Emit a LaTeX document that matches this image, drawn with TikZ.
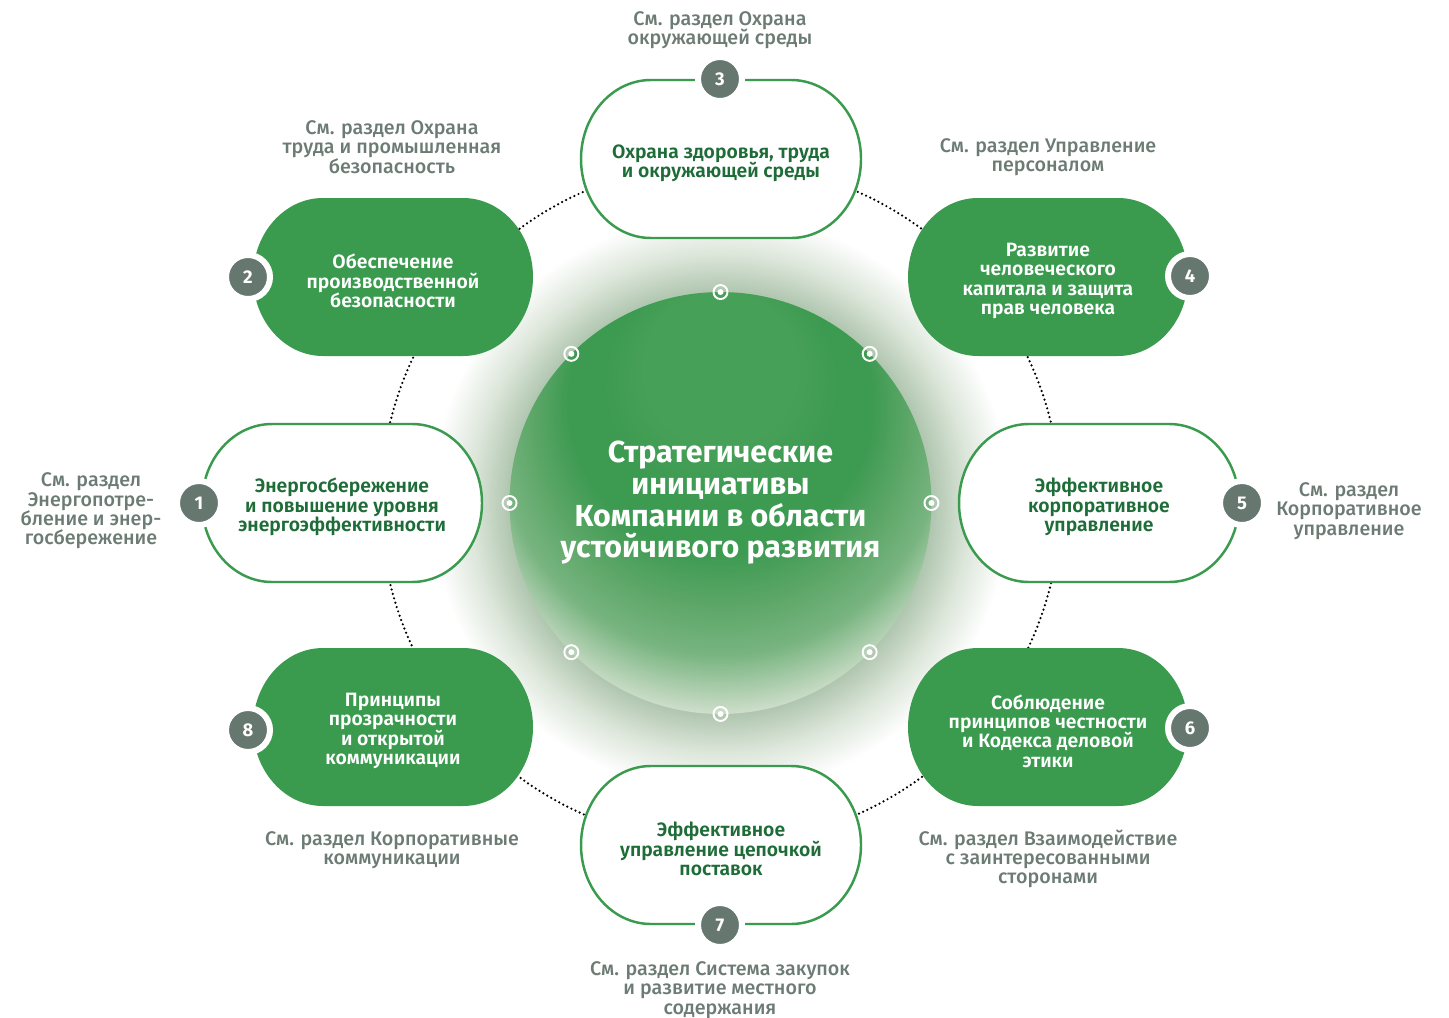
\documentclass[tikz,border=0pt]{standalone}
\usepackage{fontspec}
\setmainfont{Fira Sans}[BoldFont={* SemiBold}]
\newfontfamily\heavyfont{Fira Sans}[UprightFont={* Bold}]
\newfontfamily\labelfont{Fira Sans}[UprightFont={* Medium}]

\definecolor{capgreen}{HTML}{3A9B4F}
\definecolor{capdark}{HTML}{1E6C37}
\definecolor{badgegray}{HTML}{66776F}
\definecolor{labelgray}{HTML}{6C7B74}
\definecolor{halogreen}{HTML}{B0C6AF}
\definecolor{halomid}{HTML}{DCE6DA}
\definecolor{coretop}{HTML}{47A058}
\definecolor{coredark}{HTML}{3D9A51}
\definecolor{coremid}{HTML}{5EA769}
\definecolor{coreside}{HTML}{78B480}
\definecolor{corelight}{HTML}{D0DFCC}
\definecolor{corepale}{HTML}{E6EEE4}

\pgfdeclareradialshading{haloshade}{\pgfpoint{0bp}{0bp}}{color(0bp)=(halogreen); color(18.2bp)=(halogreen); color(21.5bp)=(halomid); color(25bp)=(white); color(50bp)=(white)}
\pgfdeclareradialshading{coreshade}{\pgfpoint{0bp}{20bp}}{color(0bp)=(coretop); color(9bp)=(coretop); color(14bp)=(coredark); color(18bp)=(coredark); color(22.5bp)=(coremid); color(26.3bp)=(coreside); color(31.2bp)=(corelight); color(45bp)=(corepale)}

\newcommand{\captxt}{\fontsize{11}{11}\selectfont\bfseries\lineskiplimit=-1em\relax}
\newcommand{\seetxt}{\fontsize{11.2}{11}\selectfont\labelfont\lineskiplimit=-1em\relax}

\tikzset{
  capfill/.style={fill=capgreen},
  capline/.style={fill=white, draw=capgreen, line width=1.4pt},
  capfill text/.style={text=white, font=\captxt, align=center, yshift=-0.08cm},
  capline text/.style={text=capdark, font=\captxt, align=center, yshift=-0.08cm},
}

% capsule: name, centre, kind, text
\newcommand{\capsule}[4]{%
  \path[#3, shift={(#2)}] (-70,79) -- (70,79)
    arc[start angle=90, end angle=-90, x radius=70, y radius=79]
    -- (-70,-79) arc[start angle=270, end angle=90, x radius=70, y radius=79] -- cycle;
  \node[#3 text] (#1) at (#2) {#4};}

\begin{document}
\begin{tikzpicture}[x=0.02cm, y=0.02cm,
    core/.style={circle, shading=coreshade, minimum size=8.44cm, inner sep=0pt, outer sep=0pt, text=white, align=center, font=\fontsize{17.3}{18}\selectfont\heavyfont},
    badge/.style={circle, fill=badgegray, draw=white, line width=0.12cm, minimum size=0.88cm, inner sep=0pt, text=white, font=\fontsize{10.5}{12}\selectfont\heavyfont},
    seelabel/.style={text=labelgray, align=center, font=\seetxt},
    ring/.style={circle, draw=white, line width=1.1pt, minimum size=0.28cm, inner sep=0pt},
    dotring/.style={line width=1.4pt, line cap=round, dash pattern=on 0pt off 2.6pt}]
  \useasboundingbox (0,0) rectangle (1449,-1017);
  \coordinate (mid) at (720.5,-503);
  \shade[shading=haloshade] (mid) circle[radius=290];
  \draw[dotring] (mid) circle[radius=340];
  \node[core] (core) at (mid) {Стратегические\\инициативы\\Компании в области\\устойчивого развития};
  \foreach \a in {0,45,...,315} {
    \node[ring] (m\a) at (core.\a) {};
    \fill[white] (m\a) circle[radius=3];
  }

  \capsule{c3}{721,-159}{capline}{Охрана здоровья, труда\\и окружающей среды}
  \capsule{c2}{393,-277}{capfill}{Обеспечение\\производственной\\безопасности}
  \capsule{c4}{1048,-277}{capfill}{Развитие\\человеческого\\капитала и защита\\прав человека}
  \capsule{c1}{342,-503}{capline}{Энергосбережение\\и повышение уровня\\энергоэффективности}
  \capsule{c5}{1099,-503}{capline}{Эффективное\\корпоративное\\управление}
  \capsule{c6}{1048,-727}{capfill}{Соблюдение\\принципов честности\\и Кодекса деловой\\этики}
  \capsule{c8}{393,-727}{capfill}{Принципы\\прозрачности\\и открытой\\коммуникации}
  \capsule{c7}{721,-845}{capline}{Эффективное\\управление цепочкой\\поставок}

  \node[badge] (b1) at (199,-503) {1};
  \node[badge] (b2) at (248,-277) {2};
  \node[badge] (b3) at (720,-79) {3};
  \node[badge] (b4) at (1190,-276) {4};
  \node[badge] (b5) at (1242,-503) {5};
  \node[badge] (b6) at (1190,-728) {6};
  \node[badge] (b7) at (720,-925) {7};
  \node[badge] (b8) at (248,-730) {8};

  \node[seelabel] (s1) at (91,-511) {См. раздел\\Энергопотре-\\бление и энер-\\госбережение};
  \node[seelabel] (s2) at (392,-147) {См. раздел Охрана\\труда и промышленная\\безопасность};
  \node[seelabel] (s3) at (720,-30) {См. раздел Охрана\\окружающей среды};
  \node[seelabel] (s4) at (1048,-157) {См. раздел Управление\\персоналом};
  \node[seelabel] (s5) at (1349,-511) {См. раздел\\Корпоративное\\управление};
  \node[seelabel] (s6) at (1048,-859) {См. раздел Взаимодействие\\с заинтересованными\\сторонами};
  \node[seelabel] (s7) at (720,-990) {См. раздел Система закупок\\и развитие местного\\содержания};
  \node[seelabel] (s8) at (392,-850) {См. раздел Корпоративные\\коммуникации};
\end{tikzpicture}
\end{document}
